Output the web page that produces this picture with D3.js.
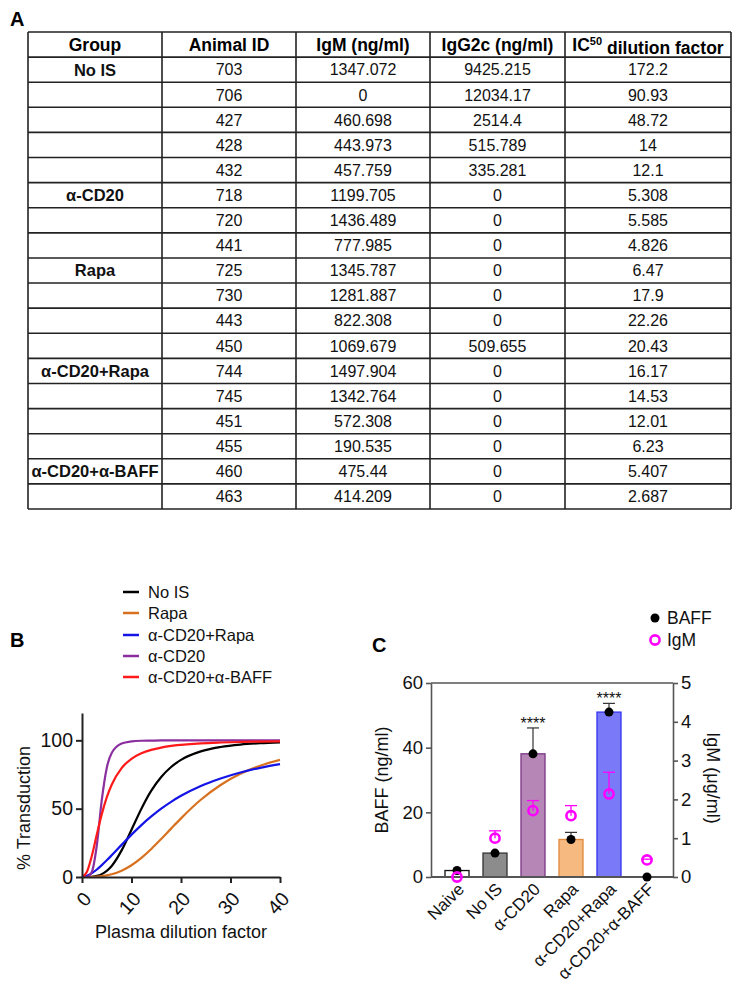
<!DOCTYPE html>
<html><head><meta charset="utf-8">
<script src="https://cdn.jsdelivr.net/npm/d3@7"></script>
<style>
body{margin:0;background:#fff;}
svg{display:block;font-family:Arial,"Liberation Sans",Helvetica,sans-serif;}
</style>
</head><body>
<svg id="chart" width="733" height="982"></svg>
<script>
// ---------- Panel A: table data ----------
const tableHeaders = ["Group", "Animal ID", "IgM (ng/ml)", "IgG2c (ng/ml)", "IC50 dilution factor"];
const groups = ["No IS","","","","","α-CD20","","","Rapa","","","","α-CD20+Rapa","","","","α-CD20+α-BAFF",""];
const animalIds = ["703","706","427","428","432","718","720","441","725","730","443","450","744","745","451","455","460","463"];
const igmValues = ["1347.072","0","460.698","443.973","457.759","1199.705","1436.489","777.985","1345.787","1281.887","822.308","1069.679","1497.904","1342.764","572.308","190.535","475.44","414.209"];
const igg2cValues = ["9425.215","12034.17","2514.4","515.789","335.281","0","0","0","0","0","0","509.655","0","0","0","0","0","0"];
const ic50Values = ["172.2","90.93","48.72","14","12.1","5.308","5.585","4.826","6.47","17.9","22.26","20.43","16.17","14.53","12.01","6.23","5.407","2.687"];

// ---------- Panel B: transduction curves ----------
const curveNames = ["No IS","Rapa","α-CD20+Rapa","α-CD20","α-CD20+α-BAFF"];
const dilution = [0,1,2,3,4,5,6,8,10,12,14,16,18,20,24,28,32,36,40];
const noIS      = [0,0,0.2,0.8,2.1,4.5,8.1,19.5,34.6,50,63.2,73.2,80.5,85.7,91.9,95.1,96.9,97.9,98.5];
const rapa      = [0,0,0.1,0.3,0.6,1.2,2.0,4.6,8.6,14,20.5,27.8,35.4,42.9,56.5,67.3,75.5,81.4,85.7];
const cd20Rapa  = [0,0.9,2.8,5.5,8.7,12.2,15.9,23.5,31,38,44.3,50,55,59.4,66.6,72.1,76.5,79.9,82.6];
const cd20      = [0,0.1,3.9,23.4,56.4,79.8,90.7,97.6,99.2,99.7,99.8,99.9,99.9,100,100,100,100,100,100];
const cd20Baff  = [0,3.9,15.7,31.2,46,58.2,67.5,79.7,86.5,90.5,93,94.7,95.9,96.7,97.8,98.4,98.8,99.1,99.3];
const curveSeries = [noIS, rapa, cd20Rapa, cd20, cd20Baff];
const curveColors = ["#000000","#d8711f","#1414e6","#8b2f9f","#ff1a1a"];
const bYTicks = [0,50,100];
const bXTicks = [0,10,20,30,40];

// ---------- Panel C: BAFF bars + IgM ----------
const cCats = ["Naive","No IS","α-CD20","Rapa","α-CD20+Rapa","α-CD20+α-BAFF"];
const baffMean = [2.0,7.4,38.1,11.6,51.0,0];
const baffErr  = [0,0,8.0,2.2,2.7,0];
const igmMean  = [0,1.0,1.71,1.58,2.14,0.44];
const igmErr   = [0,0.19,0.26,0.26,0.56,0.02];
const sigLabels = ["","","****","","****",""];
const barFill   = ["#ffffff","#8c8c8c","#b687b6","#f6b980","#7a7af8","none"];
const barStroke = ["#111111","#333333","#7a3585","#e08a3a","#3434f0","none"];
const cLeftTicks = [0,20,40,60];
const cRightTicks = [0,1,2,3,4,5];

const svg = d3.select("#chart");
const FONT = "Arial, Liberation Sans, sans-serif";

// ================= Panel A =================
svg.append("text").attr("x",10).attr("y",26).attr("font-size",20).attr("font-weight","bold").text("A");

const colEdges = [28,162,296,430,565,731];
const nRows = animalIds.length + 1;
const rowY = d3.scaleLinear().domain([0, nRows]).range([32, 509]);
const tA = svg.append("g");

tableHeaders.forEach((h,i) => {
  const cx = (colEdges[i]+colEdges[i+1])/2;
  const t = tA.append("text").attr("x",cx).attr("y",(rowY(0)+rowY(1))/2).attr("dy","0.36em")
    .attr("text-anchor","middle").attr("font-size",17.5).attr("font-weight","bold");
  if (h.startsWith("IC50")) {
    t.append("tspan").text("IC");
    t.append("tspan").attr("font-size",11).attr("dy","-0.55em").text("50");
    t.append("tspan").attr("dy","0.55em").text(" dilution factor");
  } else t.text(h);
});
const columns = [groups, animalIds, igmValues, igg2cValues, ic50Values];
columns.forEach((col, ci) => {
  const cx = (colEdges[ci]+colEdges[ci+1])/2;
  col.forEach((v, ri) => {
    tA.append("text").attr("x",cx).attr("y",(rowY(ri+1)+rowY(ri+2))/2).attr("dy","0.36em")
      .attr("text-anchor","middle").attr("font-size", ci===0 ? 16.5 : 16)
      .attr("font-weight", ci===0 ? "bold" : "normal").attr("fill","#111").text(v);
  });
});
d3.range(nRows+1).forEach(r => {
  tA.append("line").attr("x1",colEdges[0]).attr("x2",colEdges[5]).attr("y1",rowY(r)).attr("y2",rowY(r))
    .attr("stroke","#222").attr("stroke-width",1.6);
});
colEdges.forEach(x => {
  tA.append("line").attr("x1",x).attr("x2",x).attr("y1",rowY(0)).attr("y2",rowY(nRows))
    .attr("stroke","#222").attr("stroke-width",1.6);
});

// ================= Panel B =================
svg.append("text").attr("x",10).attr("y",647).attr("font-size",20).attr("font-weight","bold").text("B");
const legY = [592,613,635,656,677];
curveNames.forEach((n,i) => {
  svg.append("line").attr("x1",123).attr("x2",139).attr("y1",legY[i]).attr("y2",legY[i])
    .attr("stroke",curveColors[i]).attr("stroke-width",2.5);
  svg.append("text").attr("x",148).attr("y",legY[i]).attr("dy","0.36em").attr("font-size",16.5).attr("fill","#111").text(n);
});

const xB = d3.scaleLinear().domain([0,40]).range([82,280]);
const yB = d3.scaleLinear().domain([0,120]).range([877,713]);
const line = d3.line().x((d,i)=>xB(dilution[i])).y(d=>yB(d)).curve(d3.curveMonotoneX);
const gB = svg.append("g");
curveSeries.forEach((s,i) => {
  gB.append("path").datum(s).attr("d",line).attr("fill","none")
    .attr("stroke",curveColors[i]).attr("stroke-width",2.2);
});
const yAxB = gB.append("g").attr("transform","translate(82,0)")
  .call(d3.axisLeft(yB).tickValues(bYTicks).tickSize(6).tickSizeOuter(0).tickPadding(3));
yAxB.selectAll("text").attr("font-size",19.5).attr("fill","#111").attr("font-family",FONT);
const xAxB = gB.append("g").attr("transform","translate(0,877)")
  .call(d3.axisBottom(xB).tickValues(bXTicks).tickSize(6).tickSizeOuter(0));
xAxB.selectAll("text").attr("font-size",19.5).attr("fill","#111").attr("font-family",FONT)
  .attr("text-anchor","end").attr("y",0).attr("x",0).attr("dy","0.35em").attr("transform","translate(5,18) rotate(-48)");
[yAxB, xAxB].forEach(a => { a.selectAll("path,line").attr("stroke","#222").attr("stroke-width",2); });
svg.append("text").attr("x",181).attr("y",938).attr("text-anchor","middle").attr("font-size",18).attr("fill","#111").text("Plasma dilution factor");
svg.append("text").attr("transform","translate(30,808) rotate(-90)").attr("text-anchor","middle").attr("font-size",18).attr("fill","#111").text("% Transduction");

// ================= Panel C =================
svg.append("text").attr("x",372).attr("y",652).attr("font-size",20).attr("font-weight","bold").text("C");
svg.append("circle").attr("cx",655).attr("cy",618).attr("r",4.5).attr("fill","#000");
svg.append("text").attr("x",667).attr("y",618).attr("dy","0.36em").attr("font-size",17.5).attr("fill","#111").text("BAFF");
svg.append("circle").attr("cx",655).attr("cy",640).attr("r",4.6).attr("fill","none").attr("stroke","#ff00ff").attr("stroke-width",2.6);
svg.append("text").attr("x",667).attr("y",640).attr("dy","0.36em").attr("font-size",17.5).attr("fill","#111").text("IgM");

const xC = d3.scaleBand().domain(cCats).range([438,666]).paddingInner(0.368).paddingOuter(0.184);
const yC = d3.scaleLinear().domain([0,60]).range([877,683]);
const yI = d3.scaleLinear().domain([0,5]).range([877,683]);
const gC = svg.append("g");
const cx = c => xC(c) + xC.bandwidth()/2;

cCats.forEach((c,i) => {
  if (barFill[i] === "none") return;
  gC.append("rect").attr("x",xC(c)).attr("width",xC.bandwidth())
    .attr("y",yC(baffMean[i])).attr("height",yC(0)-yC(baffMean[i]))
    .attr("fill",barFill[i]).attr("stroke",barStroke[i]).attr("stroke-width",1.3);
});
cCats.forEach((c,i) => {
  if (!baffErr[i]) return;
  const x = cx(c);
  gC.append("line").attr("x1",x).attr("x2",x).attr("y1",yC(baffMean[i])).attr("y2",yC(baffMean[i]+baffErr[i])).attr("stroke","#333").attr("stroke-width",1.2);
  gC.append("line").attr("x1",x-6).attr("x2",x+6).attr("y1",yC(baffMean[i]+baffErr[i])).attr("y2",yC(baffMean[i]+baffErr[i])).attr("stroke","#333").attr("stroke-width",1.2);
});
cCats.forEach((c,i) => {
  if (!sigLabels[i]) return;
  gC.append("text").attr("x",cx(c)).attr("y",yC(baffMean[i]+baffErr[i])+1).attr("text-anchor","middle")
    .attr("font-size",16).attr("fill","#111").text(sigLabels[i]);
});
const lAx = gC.append("g").attr("transform","translate(431,0)")
  .call(d3.axisLeft(yC).tickValues(cLeftTicks).tickSize(5).tickSizeOuter(0).tickPadding(3).tickFormat(d3.format("d")));
const rAx = gC.append("g").attr("transform","translate(673,0)")
  .call(d3.axisRight(yI).tickValues(cRightTicks).tickSize(5).tickSizeOuter(0).tickPadding(3).tickFormat(d3.format("d")));
[lAx, rAx].forEach(a => {
  a.selectAll("path,line").attr("stroke","#555").attr("stroke-width",1.6);
  a.selectAll("text").attr("font-size",18.5).attr("fill","#111").attr("font-family",FONT);
});
gC.append("line").attr("x1",431).attr("x2",673).attr("y1",yC(60)).attr("y2",yC(60)).attr("stroke","#555").attr("stroke-width",1.6);
const bAx = gC.append("g").attr("transform","translate(0,877)")
  .call(d3.axisBottom(xC).tickSize(0).tickSizeOuter(0));
bAx.select("path").attr("d","M431,0H673").attr("stroke","#555").attr("stroke-width",1.8);
bAx.selectAll("text").attr("font-size",17).attr("fill","#111").attr("font-family",FONT)
  .attr("text-anchor","end").attr("y",0).attr("dy","0.35em").attr("transform","translate(4,9) rotate(-45)");

cCats.forEach((c,i) => {
  gC.append("circle").attr("cx",cx(c)).attr("cy",yC(baffMean[i])).attr("r",4.5).attr("fill","#000");
});
cCats.forEach((c,i) => {
  const x = cx(c);
  if (igmErr[i]) {
    gC.append("line").attr("x1",x).attr("x2",x).attr("y1",yI(igmMean[i])).attr("y2",yI(igmMean[i]+igmErr[i])).attr("stroke","#ff00ff").attr("stroke-width",1.3);
    gC.append("line").attr("x1",x-6).attr("x2",x+6).attr("y1",yI(igmMean[i]+igmErr[i])).attr("y2",yI(igmMean[i]+igmErr[i])).attr("stroke","#ff00ff").attr("stroke-width",1.3);
  }
  gC.append("circle").attr("cx",x).attr("cy",yI(igmMean[i])).attr("r",4.6).attr("fill","none").attr("stroke","#ff00ff").attr("stroke-width",2.6);
});
svg.append("text").attr("transform","translate(388,780) rotate(-90)").attr("text-anchor","middle").attr("font-size",18).attr("fill","#111").text("BAFF (ng/ml)");
svg.append("text").attr("transform","translate(707,778) rotate(90)").attr("text-anchor","middle").attr("font-size",18).attr("fill","#111").text("IgM (μg/ml)");
</script>
</body></html>
